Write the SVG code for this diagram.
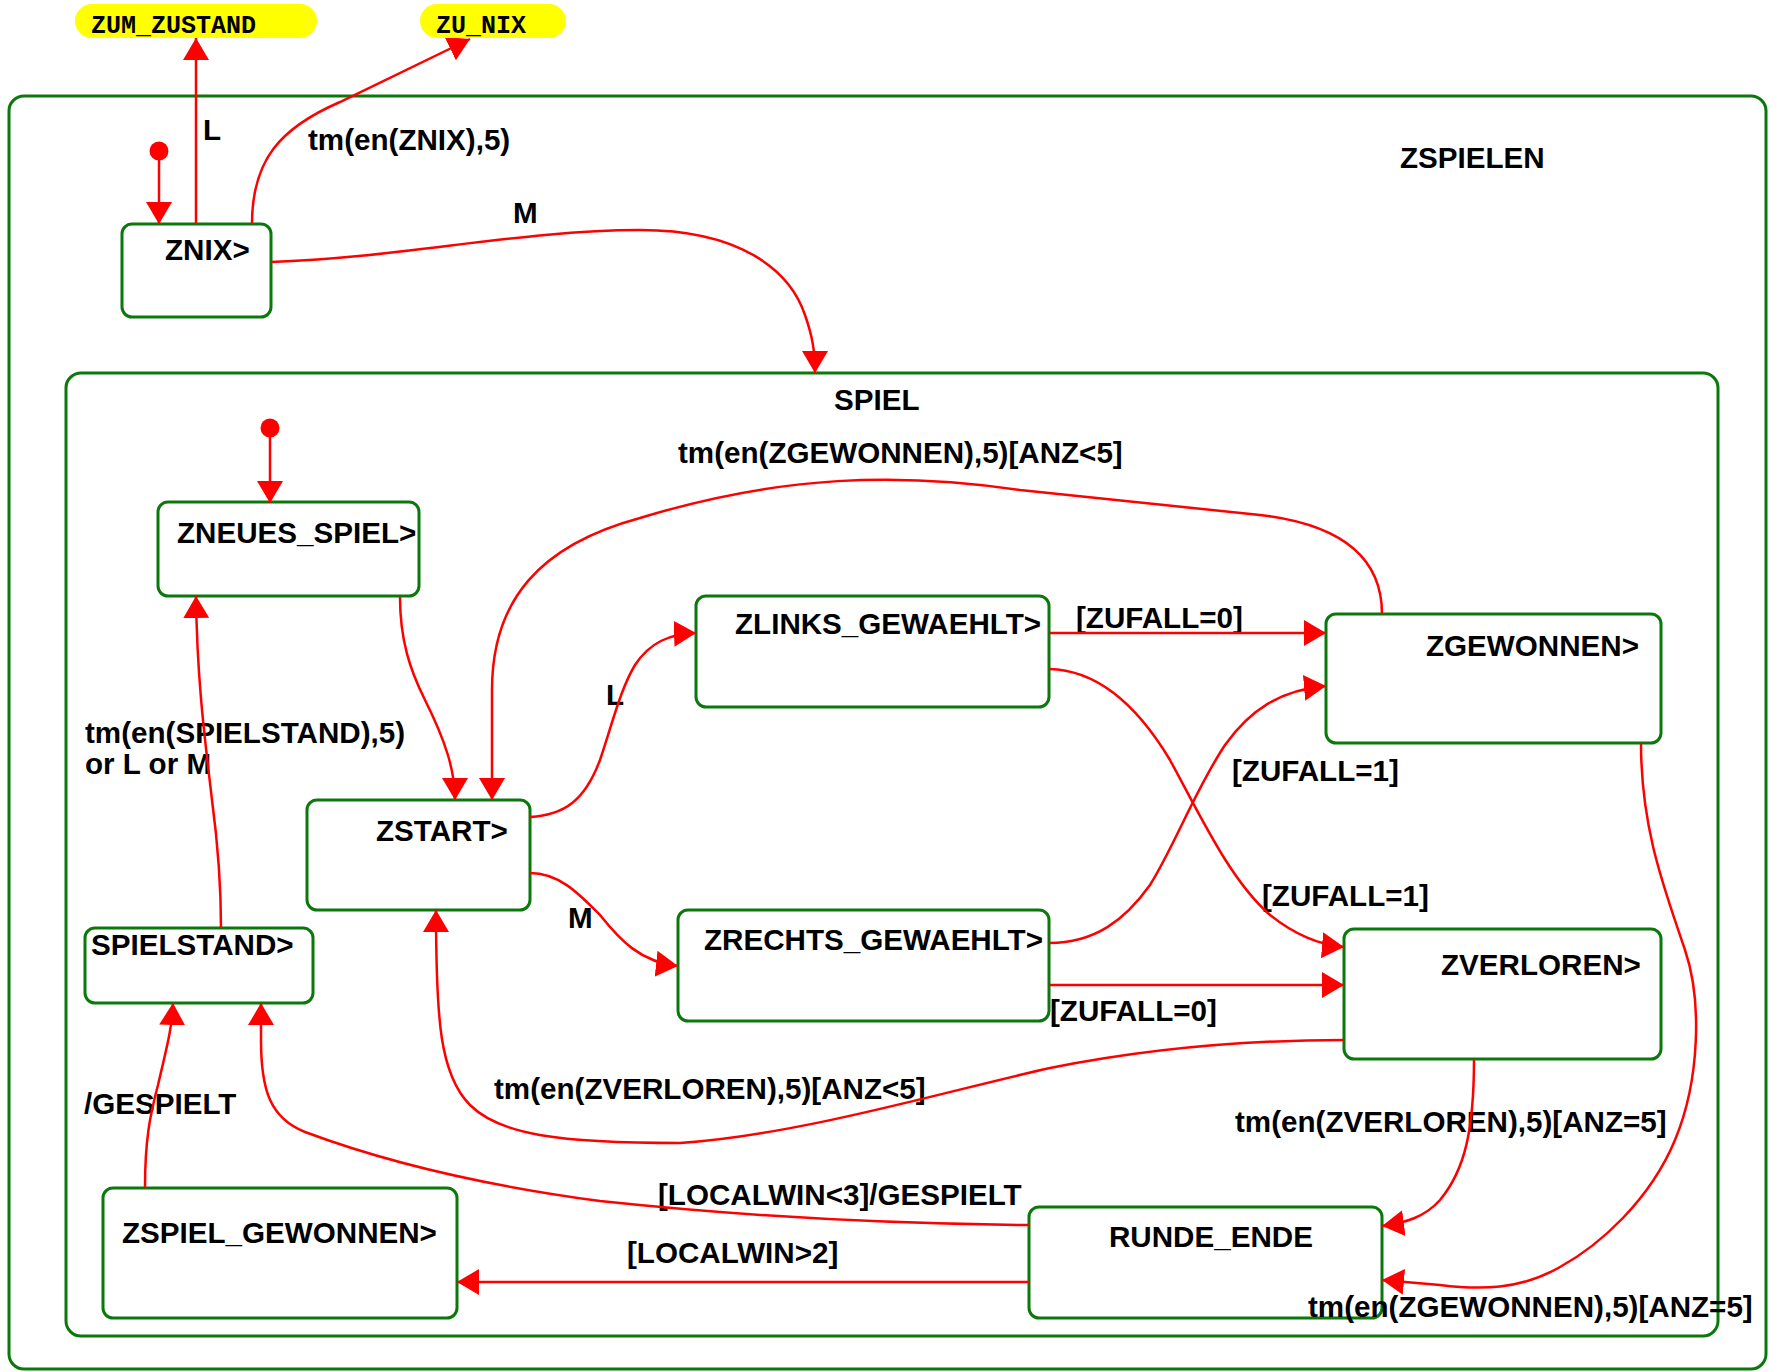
<svg xmlns="http://www.w3.org/2000/svg" width="1769" height="1372" viewBox="0 0 1769 1372">
<style>
.box{fill:#ffffff;stroke:#0a780a;stroke-width:3}
.cont{fill:none;stroke:#0a780a;stroke-width:3}
.lbl{font-family:"Liberation Sans",Arial,sans-serif;font-weight:bold;font-size:29.6px;fill:#000}
.pill{fill:#ffff00;stroke:none}
.ptxt{font-family:"Liberation Mono","Courier New",monospace;font-weight:bold;font-size:25px;fill:#000}
.cn{fill:none;stroke:#ff0000;stroke-width:2.5}
.dot{fill:#ff0000}
</style>
<defs>
<marker id="ah" markerUnits="userSpaceOnUse" markerWidth="22" markerHeight="26" viewBox="0 0 22 26" refX="22" refY="13" orient="auto">
<path d="M0,0 L22,13 L0,26 Z" fill="#ff0000"/>
</marker>
</defs>
<rect width="1769" height="1372" fill="#ffffff"/>

<g id="ZSPIELEN">
<rect class="cont" x="9" y="96" width="1757" height="1273" rx="15" ry="15"/>
<text class="lbl" x="1400" y="168">ZSPIELEN</text>
</g>
<g id="SPIEL">
<rect class="cont" x="66" y="373" width="1652" height="963" rx="15" ry="15"/>
<text class="lbl" x="834" y="410">SPIEL</text>
</g>

<g id="ZNIX"><rect class="box" x="122" y="224" width="149" height="93" rx="10"/><text class="lbl" x="165" y="260">ZNIX&gt;</text></g>
<g id="ZNEUES_SPIEL"><rect class="box" x="158" y="502" width="261" height="94" rx="10"/><text class="lbl" x="177" y="543">ZNEUES_SPIEL&gt;</text></g>
<g id="ZLINKS_GEWAEHLT"><rect class="box" x="696" y="596" width="353" height="111" rx="10"/><text class="lbl" x="735" y="634">ZLINKS_GEWAEHLT&gt;</text></g>
<g id="ZGEWONNEN"><rect class="box" x="1326" y="614" width="335" height="129" rx="10"/><text class="lbl" x="1426" y="656">ZGEWONNEN&gt;</text></g>
<g id="ZSTART"><rect class="box" x="307" y="800" width="223" height="110" rx="10"/><text class="lbl" x="376" y="841">ZSTART&gt;</text></g>
<g id="SPIELSTAND"><rect class="box" x="85" y="928" width="228" height="75" rx="10"/><text class="lbl" x="91" y="955">SPIELSTAND&gt;</text></g>
<g id="ZRECHTS_GEWAEHLT"><rect class="box" x="678" y="910" width="371" height="111" rx="10"/><text class="lbl" x="704" y="950">ZRECHTS_GEWAEHLT&gt;</text></g>
<g id="ZVERLOREN"><rect class="box" x="1344" y="929" width="317" height="130" rx="10"/><text class="lbl" x="1441" y="975">ZVERLOREN&gt;</text></g>
<g id="ZSPIEL_GEWONNEN"><rect class="box" x="103" y="1188" width="354" height="130" rx="10"/><text class="lbl" x="122" y="1243">ZSPIEL_GEWONNEN&gt;</text></g>
<g id="RUNDE_ENDE"><rect class="box" x="1029" y="1207" width="353" height="111" rx="10"/><text class="lbl" x="1109" y="1247">RUNDE_ENDE</text></g>

<g id="labels">
<text class="lbl" x="203" y="140">L</text>
<text class="lbl" x="308" y="150">tm(en(ZNIX),5)</text>
<text class="lbl" x="513" y="223">M</text>
<text class="lbl" x="678" y="463">tm(en(ZGEWONNEN),5)[ANZ&lt;5]</text>
<text class="lbl" x="1076" y="628">[ZUFALL=0]</text>
<text class="lbl" x="606" y="705">L</text>
<text class="lbl" x="1232" y="781">[ZUFALL=1]</text>
<text class="lbl" x="85" y="743">tm(en(SPIELSTAND),5)</text>
<text class="lbl" x="85" y="774">or L or M</text>
<text class="lbl" x="568" y="928">M</text>
<text class="lbl" x="1262" y="906">[ZUFALL=1]</text>
<text class="lbl" x="1050" y="1021">[ZUFALL=0]</text>
<text class="lbl" x="494" y="1099">tm(en(ZVERLOREN),5)[ANZ&lt;5]</text>
<text class="lbl" x="84" y="1114">/GESPIELT</text>
<text class="lbl" x="1235" y="1132">tm(en(ZVERLOREN),5)[ANZ=5]</text>
<text class="lbl" x="658" y="1205">[LOCALWIN&lt;3]/GESPIELT</text>
<text class="lbl" x="627" y="1263">[LOCALWIN&gt;2]</text>
<text class="lbl" x="1308" y="1317">tm(en(ZGEWONNEN),5)[ANZ=5]</text>
</g>

<g id="connectors">
<circle class="dot" cx="159" cy="151" r="9.5"/>
<path class="cn" d="M159,151 L159,224" marker-end="url(#ah)"/>
<path class="cn" d="M196,224 L196,38" marker-end="url(#ah)"/>
<path class="cn" d="M252,224 C252,160 280,128 340,102 L470,39" marker-end="url(#ah)"/>
<path class="cn" d="M271,262 C400,258 520,230 640,230 C740,230 790,270 805,315 C812,335 815,350 815,373" marker-end="url(#ah)"/>
<circle class="dot" cx="270" cy="428" r="9.5"/>
<path class="cn" d="M270,428 L270,503" marker-end="url(#ah)"/>
<path class="cn" d="M221,928 C221,880 216,830 212,800 C205,740 197,680 196,596" marker-end="url(#ah)"/>
<path class="cn" d="M400,597 C400,640 410,670 425,700 C445,740 455,770 455,800" marker-end="url(#ah)"/>
<path class="cn" d="M1382,614 C1382,560 1345,525 1260,515 L1020,490 C900,472 780,475 640,518 C540,545 492,600 492,690 L492,800" marker-end="url(#ah)"/>
<path class="cn" d="M530,817 C565,815 585,800 600,760 C612,725 620,690 635,665 C650,642 670,634 696,633" marker-end="url(#ah)"/>
<path class="cn" d="M530,873 C560,873 580,895 600,915 C620,940 640,962 678,966" marker-end="url(#ah)"/>
<path class="cn" d="M1049,633 L1326,633" marker-end="url(#ah)"/>
<path class="cn" d="M1049,669 C1100,670 1140,710 1170,760 C1200,815 1230,880 1270,915 C1295,935 1320,945 1344,947" marker-end="url(#ah)"/>
<path class="cn" d="M1049,943 C1095,943 1125,920 1150,885 C1175,845 1195,790 1225,745 C1250,710 1280,690 1326,686" marker-end="url(#ah)"/>
<path class="cn" d="M1049,985 L1344,985" marker-end="url(#ah)"/>
<path class="cn" d="M1344,1040 C1250,1040 1150,1048 1050,1068 C950,1090 800,1135 680,1143 C560,1143 500,1135 470,1105 C440,1075 436,1020 436,910" marker-end="url(#ah)"/>
<path class="cn" d="M1474,1059 C1474,1130 1465,1170 1440,1200 C1425,1217 1405,1223 1382,1226" marker-end="url(#ah)"/>
<path class="cn" d="M1641,743 C1641,830 1665,890 1685,950 C1702,1000 1700,1080 1675,1140 C1650,1200 1600,1245 1560,1267 C1520,1290 1480,1290 1440,1285 L1382,1280" marker-end="url(#ah)"/>
<path class="cn" d="M1029,1282 L457,1282" marker-end="url(#ah)"/>
<path class="cn" d="M1029,1225 C900,1224 760,1218 600,1201 C480,1185 380,1160 305,1132 C270,1118 261,1090 261,1040 L261,1003" marker-end="url(#ah)"/>
<path class="cn" d="M145,1188 C145,1140 150,1115 158,1085 C166,1050 172,1030 173,1003" marker-end="url(#ah)"/>
</g>

<g id="ZUM_ZUSTAND"><rect class="pill" x="75" y="4" width="242" height="34" rx="17"/><text class="ptxt" x="91" y="33">ZUM_ZUSTAND</text></g>
<g id="ZU_NIX"><rect class="pill" x="420" y="4" width="146" height="34" rx="17"/><text class="ptxt" x="436" y="33">ZU_NIX</text></g>
</svg>
